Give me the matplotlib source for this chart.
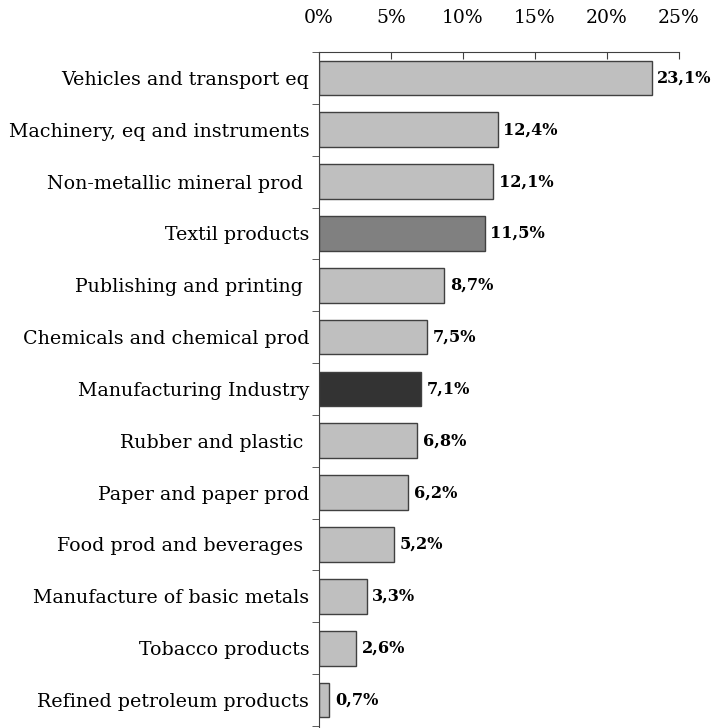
import matplotlib.pyplot as plt
from matplotlib.ticker import FixedLocator, PercentFormatter

# data, top to bottom
categories = [
    "Vehicles and transport eq",
    "Machinery, eq and instruments",
    "Non-metallic mineral prod ",
    "Textil products",
    "Publishing and printing ",
    "Chemicals and chemical prod",
    "Manufacturing Industry",
    "Rubber and plastic ",
    "Paper and paper prod",
    "Food prod and beverages ",
    "Manufacture of basic metals",
    "Tobacco products",
    "Refined petroleum products",
]
values = [23.1, 12.4, 12.1, 11.5, 8.7, 7.5, 7.1, 6.8, 6.2, 5.2, 3.3, 2.6, 0.7]
value_labels = ["23,1%", "12,4%", "12,1%", "11,5%", "8,7%", "7,5%", "7,1%",
                "6,8%", "6,2%", "5,2%", "3,3%", "2,6%", "0,7%"]
highlight = {"Textil products": "#808080", "Manufacturing Industry": "#333333"}

plt.rcParams['font.family'] = ['DejaVu Serif']

fig = plt.figure(figsize=(7.17, 7.28), dpi=100)
ax = fig.add_axes([319 / 717, 0.0, 360 / 717, 1 - 52 / 728])

colors = [highlight.get(c, "#BFBFBF") for c in categories]
ypos = list(range(len(categories)))
ax.barh(ypos, values, height=0.67, color=colors, edgecolor="#404040", linewidth=1)

for y, v, lab in zip(ypos, values, value_labels):
    ax.text(v + 0.4, y, lab, va="center", ha="left", fontsize=11.6, fontweight="bold")

ax.set_xlim(0, 25)
ax.set_ylim(len(categories) - 0.5 + 0.04, -0.5)

ax.xaxis.tick_top()
ax.set_xticks([0, 5, 10, 15, 20, 25])
ax.xaxis.set_major_formatter(PercentFormatter(decimals=0))
ax.tick_params(axis="x", direction="in", length=5, labelsize=13.5, pad=18, color="#404040")

ax.set_yticks(ypos)
ax.set_yticklabels(categories)
ax.yaxis.set_minor_locator(FixedLocator([i - 0.5 for i in range(len(categories) + 1)]))
ax.tick_params(axis="y", which="major", length=0, labelsize=13.7, pad=7)
ax.tick_params(axis="y", which="minor", length=5, color="#404040")

for s in ["right", "bottom"]:
    ax.spines[s].set_visible(False)
ax.spines["left"].set_color("#404040")
ax.spines["top"].set_color("#404040")

plt.savefig("out.png", dpi=100)
